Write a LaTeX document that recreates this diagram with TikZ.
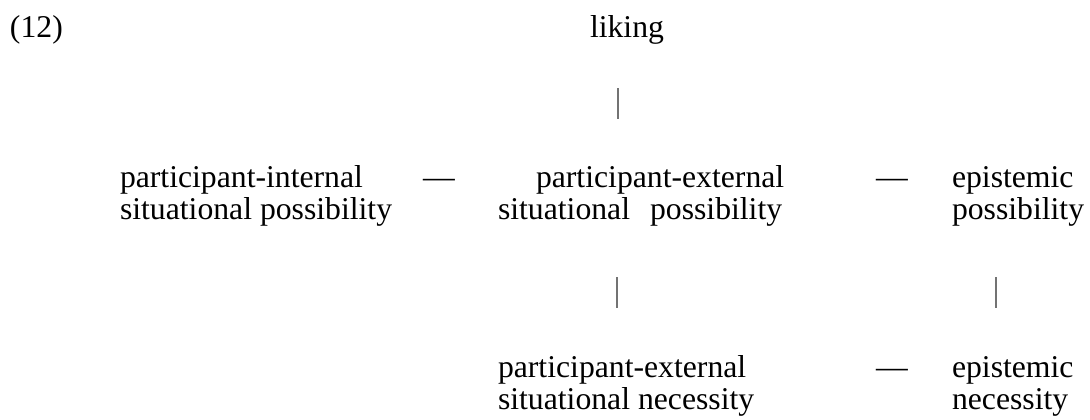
\documentclass[tikz,border=0pt]{standalone}
\usepackage{fontspec}
\setmainfont{Liberation Serif}
\begin{document}
\begin{tikzpicture}[x=0.5pt,y=-0.5pt,
  lbl/.style={anchor=base west,inner sep=0pt,outer sep=0pt,
    font=\fontsize{15.85}{16}\selectfont},
  bar/.style={draw=black!55,line width=0.8pt}]
\useasboundingbox (0,0) rectangle (1090,419);

% example number and top node
\node[lbl] (num) at (10,37) {(12)};
\node[lbl] (liking) at (590,37) {liking};

% middle row: possibility
\node[lbl] (pi1) at (120,187) {participant-internal};
\node[lbl] (pi2) at (120,219) {situational possibility};
\node[lbl] (d1) at (423,187) {—};
\node[lbl] (pe1) at (536,187) {participant-external};
\node[lbl] (pe2) at (498,219) {situational\hspace{0.38em} possibility};
\node[lbl] (d2) at (876,187) {—};
\node[lbl] (ep1) at (952,187) {epistemic};
\node[lbl] (ep2) at (952,219) {possibility};

% bottom row: necessity
\node[lbl] (ne1) at (498,377) {participant-external};
\node[lbl] (ne2) at (498,409) {situational necessity};
\node[lbl] (d3) at (876,377) {—};
\node[lbl] (en1) at (952,377) {epistemic};
\node[lbl] (en2) at (952,409) {necessity};

% vertical links
\coordinate (b1t) at (618,88);
\coordinate (b1b) at (618,119);
\coordinate (b2t) at (617,277);
\coordinate (b2b) at (617,308);
\coordinate (b3t) at (996,277);
\coordinate (b3b) at (996,308);
\draw[bar] (b1t) -- (b1b);
\draw[bar] (b2t) -- (b2b);
\draw[bar] (b3t) -- (b3b);
\end{tikzpicture}
\end{document}
